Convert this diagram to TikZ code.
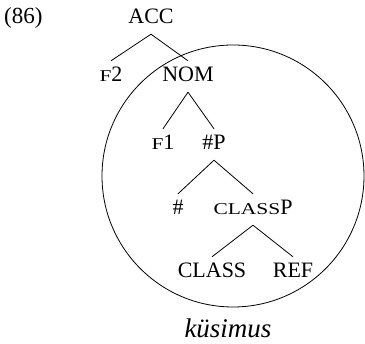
\documentclass[tikz,border=0pt]{standalone}
\usepackage{fontspec}
\setmainfont{Liberation Serif}
\newfontfamily\scfont[FakeStretch=1.3]{Liberation Serif}
\newcommand{\smc}[1]{{\scfont\fontsize{16.5}{17}\selectfont #1}}
\begin{document}
\begin{tikzpicture}[x=1pt,y=-1pt,
  lbl/.style={inner sep=0pt, anchor=base, font=\fontsize{22}{24}\selectfont, text height=15pt, text depth=0pt},
  br/.style={line width=0.8pt},
  dom/.style={draw, circle, line width=0.8pt, inner sep=0pt, minimum size=262pt},
]
\useasboundingbox (0,0) rectangle (365,344);
\node[dom] (domain) at (233,176) {};
\node[lbl, anchor=base west, font=\fontsize{23}{26}\selectfont] (ex) at (4,24) {(86)};
\node[lbl] (acc) at (151,24) {ACC};
\node[lbl] (f2) at (111,82) {\smc{F}2};
\node[lbl] (nom) at (188,82) {NOM};
\node[lbl] (f1) at (163,150) {\smc{F}1};
\node[lbl] (numP) at (214,150) {\#P};
\node[lbl] (num) at (178,215) {\#};
\node[lbl] (classP) at (253,215) {\smc{CLASS}P};
\node[lbl] (class) at (212,278) {CLASS};
\node[lbl] (ref) at (293,278) {REF};
\node[inner sep=0pt, anchor=base, font=\itshape\fontsize{27}{30}\selectfont] (gloss) at (228,338) {küsimus};
\foreach \p/\c in {acc/f2, acc/nom, nom/f1, nom/numP, numP/num, numP/classP, classP/class, classP/ref}
  \draw[br] ([yshift=-10pt]\p.south) -- ([yshift=6pt]\c.north);
\end{tikzpicture}
\end{document}
